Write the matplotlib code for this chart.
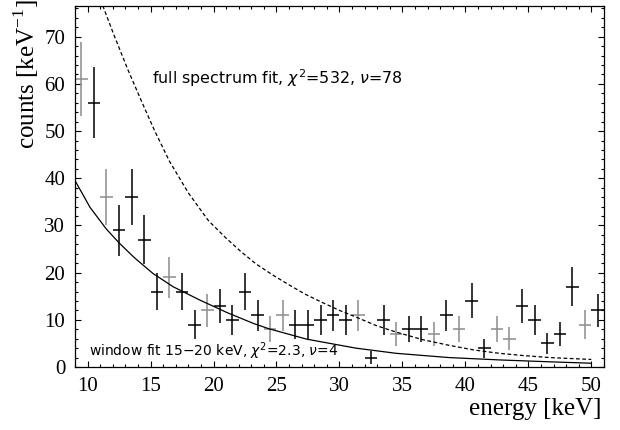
import numpy as np
import matplotlib
matplotlib.use("Agg")
import matplotlib.pyplot as plt
from matplotlib.ticker import MultipleLocator

energy = [9.5, 10.5, 11.5, 12.5, 13.5, 14.5, 15.5, 16.5, 17.5, 18.5,
          19.5, 20.5, 21.5, 22.5, 23.5, 24.5, 25.5, 26.5, 27.5, 28.5,
          29.5, 30.5, 31.5, 32.5, 33.5, 34.5, 35.5, 36.5, 37.5, 38.5,
          39.5, 40.5, 41.5, 42.5, 43.5, 44.5, 45.5, 46.5, 47.5, 48.5,
          49.5, 50.5]
counts = [61, 56, 36, 29, 36, 27, 16, 19, 16, 9,
          12, 13, 10, 16, 11, 8, 11, 9, 9, 10,
          11, 10, 11, 2, 10, 7, 8, 8, 7, 11,
          8, 14, 4, 8, 6, 13, 10, 5, 7, 17,
          9, 12]
err = [7.8, 7.5, 6.0, 5.4, 6.0, 5.2, 4.0, 4.4, 4.0, 3.0,
       3.5, 3.6, 3.2, 4.0, 3.3, 2.8, 3.3, 3.0, 3.0, 3.2,
       3.3, 3.2, 3.3, 1.4, 3.2, 2.6, 2.8, 2.8, 2.6, 3.3,
       2.8, 3.7, 2.0, 2.8, 2.4, 3.6, 3.2, 2.2, 2.6, 4.1,
       3.0, 3.5]
# pontos que aparecem cinza no original
faint = [1, 0, 1, 0, 0, 0, 0, 1, 0, 0,
         1, 0, 0, 0, 0, 1, 1, 0, 0, 0,
         0, 0, 1, 0, 0, 1, 0, 0, 1, 0,
         1, 0, 0, 1, 1, 0, 0, 0, 0, 0,
         1, 0]

# ajuste na janela 15-20 keV (linha cheia)
win_x = [9.0, 10.2, 11.5, 12.5, 13.7, 15.2, 16.8, 18.9, 21.1, 23.2,
         24.4, 27.4, 31.3, 34.5, 38.7, 42.7, 46.7, 50.0]
win_y = [39.5, 33.8, 29.2, 26.3, 23.2, 19.8, 17.0, 14.2, 11.5, 9.2,
         8.1, 5.9, 4.0, 2.9, 2.0, 1.5, 1.1, 0.8]

# ajuste do espectro completo (tracejada)
full_x = [11.2, 12.1, 13.2, 14.3, 15.3, 16.5, 18.0, 19.6, 21.0, 22.2,
          23.4, 24.7, 26.0, 27.3, 28.7, 30.0, 31.3, 32.9, 34.5, 36.6,
          38.7, 40.7, 42.7, 44.7, 46.7, 50.0]
full_y = [76.6, 70.3, 63.0, 56.2, 50.2, 43.6, 36.9, 31.0, 27.3, 24.4,
          21.8, 19.5, 17.4, 15.4, 13.6, 12.0, 10.6, 8.8, 7.4, 5.8,
          4.6, 3.6, 2.9, 2.4, 2.0, 1.6]

plt.rcParams['mathtext.fontset'] = 'dejavusans'

fig = plt.figure(figsize=(6.2, 4.3), dpi=100)
ax = fig.add_axes([0.121, 0.1465, 0.853, 0.8395])

e = np.array(energy)
c = np.array(counts)
s = np.array(err)
m = np.array(faint) == 1
ax.errorbar(e[~m], c[~m], yerr=s[~m], xerr=0.5, fmt='none', ecolor='black',
            elinewidth=1.1, capsize=0)
ax.errorbar(e[m], c[m], yerr=s[m], xerr=0.5, fmt='none', ecolor='#8c8c8c',
            elinewidth=1.1, capsize=0)

ax.plot(win_x, win_y, '-', color='black', lw=0.9)
ax.plot(full_x, full_y, color='black', lw=0.9, ls=(0, (3, 2)))

ax.text(15.1, 60, r'full spectrum fit, $\chi^{\mathregular{2}}$=532, $\nu$=78',
        family='DejaVu Sans', fontsize=11.4, ha='left', va='baseline')
ax.text(10.1, 2.3, r'window fit 15$-$20 keV, $\chi^{\mathregular{2}}$=2.3, $\nu$=4',
        family='DejaVu Sans', fontsize=10.0, ha='left', va='baseline')

ax.set_xlim(9, 51)
ax.set_ylim(0, 76.5)
ax.xaxis.set_major_locator(MultipleLocator(5))
ax.xaxis.set_minor_locator(MultipleLocator(1))
ax.yaxis.set_major_locator(MultipleLocator(10))
ax.yaxis.set_minor_locator(MultipleLocator(2))
ax.tick_params(which='both', direction='in', top=True, right=True, width=0.8)
ax.tick_params(which='major', length=4.5, pad=7)
ax.tick_params(which='minor', length=2.5)
for lab in ax.get_xticklabels() + ax.get_yticklabels():
    lab.set_family('Liberation Serif')
    lab.set_fontsize(15)
for sp in ax.spines.values():
    sp.set_linewidth(0.9)

ax.set_xlabel('energy [keV]', family='Liberation Serif', fontsize=18, loc='right')
ax.set_ylabel(r'counts [keV$^{\mathregular{-1}}$]', family='Liberation Serif',
              fontsize=18, loc='top')
ax.xaxis.set_label_coords(0.996, -0.085)
ax.yaxis.set_label_coords(-0.064, 1.017)

fig.savefig('out.png', dpi=100)
